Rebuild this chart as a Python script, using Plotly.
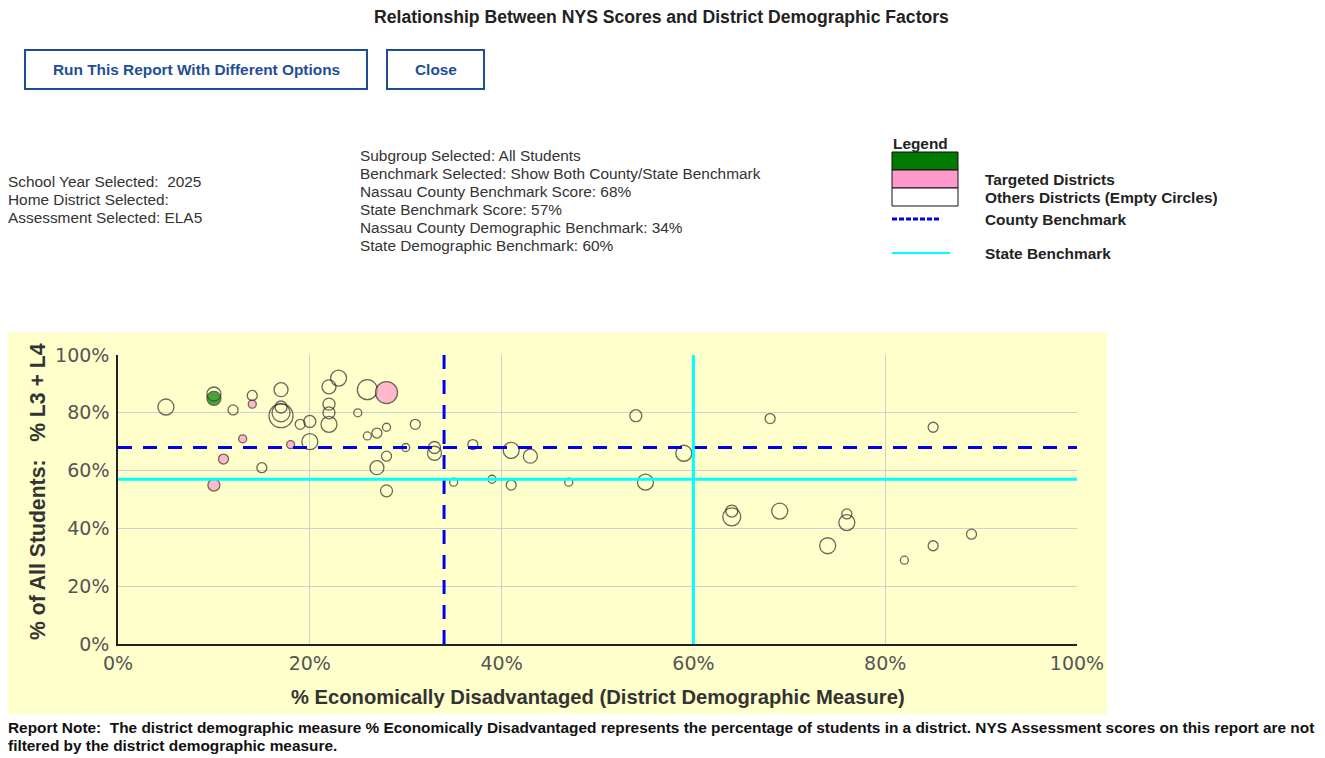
import plotly.graph_objects as go

W, H = 1325, 758

# ---------------- data ----------------
other_x = [5, 10, 12, 14, 15, 17, 17, 17, 17, 19, 20, 20, 22, 23, 22, 22, 22, 25, 26, 26,
           27, 28, 31, 28, 27, 28, 30, 33, 33, 37, 35, 39, 41, 43, 41, 47, 54, 55, 59, 68,
           85, 64, 64, 69, 76, 76, 74, 82, 85, 89]
other_y = [82, 86.5, 81, 86, 61, 88, 82, 80, 79, 76, 77, 70, 89, 92, 83, 80, 76, 80, 88, 72,
           73, 75, 76, 65, 61, 53, 68, 68, 66, 69, 56, 57, 67, 65, 55, 56, 79, 56, 66, 78,
           75, 46, 44, 46, 45, 42, 34, 29, 34, 38]
other_size = [16, 14, 10, 10, 10, 14, 12, 18, 24, 10, 12, 16, 14, 16, 12, 12, 16, 8, 20, 8,
              10, 8, 10, 10, 14, 12, 8, 12, 14, 10, 8, 8, 16, 14, 10, 8, 12, 16, 16, 10,
              10, 12, 18, 16, 10, 16, 16, 8, 10, 10]

target_x = [14, 13, 11, 10, 18, 28]
target_y = [83, 71, 64, 55, 69, 87]
target_size = [8, 8, 10, 12, 8, 22]

home_x = [10]
home_y = [85]
home_size = [14]

county_score = 68
state_score = 57
county_demo = 34
state_demo = 60

x_ticks = [0, 20, 40, 60, 80, 100]
y_ticks = [0, 20, 40, 60, 80, 100]
x_ticklabels = ["0%", "20%", "40%", "60%", "80%", "100%"]
y_ticklabels = ["0%", "20%", "40%", "60%", "80%", "100%"]

title_text = "Relationship Between NYS Scores and District Demographic Factors"
left_info = ["School Year Selected:  2025", "Home District Selected:", "Assessment Selected: ELA5"]
mid_info = ["Subgroup Selected: All Students",
            "Benchmark Selected: Show Both County/State Benchmark",
            "Nassau County Benchmark Score: 68%",
            "State Benchmark Score: 57%",
            "Nassau County Demographic Benchmark: 34%",
            "State Demographic Benchmark: 60%"]
note_lines = ["Report Note:  The district demographic measure % Economically Disadvantaged represents the percentage of students in a district. NYS Assessment scores on this report are not",
              "filtered by the district demographic measure."]

# ---------------- helpers ----------------
def px(x):
    return x / W

def py(y):
    return 1 - y / H

PLOT_L, PLOT_R, PLOT_T, PLOT_B = 118, 1077, 355, 644
YELLOW = "#FFFFCC"
TXT = "#333333"
BTN = "#1F4E96"
FONT = "Liberation Sans, Arial, sans-serif"
FS = 15.4

fig = go.Figure()

fig.add_trace(go.Scatter(
    x=other_x, y=other_y, mode="markers",
    marker=dict(size=other_size, color="rgba(0,0,0,0)",
                line=dict(color="#2a2a2a", width=1.3)),
    hoverinfo="x+y", showlegend=False))
fig.add_trace(go.Scatter(
    x=target_x, y=target_y, mode="markers",
    marker=dict(size=target_size, color="#FF99CC",
                line=dict(color="#2a2a2a", width=1.3)),
    hoverinfo="x+y", showlegend=False))
fig.add_trace(go.Scatter(
    x=home_x, y=home_y, mode="markers",
    marker=dict(size=home_size, color="#007A00",
                line=dict(color="#222222", width=1.3)),
    hoverinfo="x+y", showlegend=False))

shapes = []
shapes.append(dict(type="rect", xref="paper", yref="paper",
                   x0=px(8), x1=px(1107), y0=py(714), y1=py(332),
                   fillcolor=YELLOW, line=dict(width=0), layer="below"))
dash = "14px,11px"
shapes.append(dict(type="line", xref="x", yref="y", x0=0, x1=100, y0=county_score, y1=county_score,
                   line=dict(color="#0000EE", width=3, dash=dash)))
shapes.append(dict(type="line", xref="x", yref="y", x0=county_demo, x1=county_demo, y0=0, y1=100,
                   line=dict(color="#0000EE", width=3, dash=dash)))
shapes.append(dict(type="line", xref="x", yref="y", x0=0, x1=100, y0=state_score, y1=state_score,
                   line=dict(color="#00FFFF", width=3)))
shapes.append(dict(type="line", xref="x", yref="y", x0=state_demo, x1=state_demo, y0=0, y1=100,
                   line=dict(color="#00FFFF", width=3)))
for (x0, x1) in [(25, 367), (387, 484)]:
    shapes.append(dict(type="rect", xref="paper", yref="paper",
                       x0=px(x0), x1=px(x1), y0=py(89), y1=py(50),
                       fillcolor="white", line=dict(color=BTN, width=2)))
for (y0, y1, c) in [(152, 170, "#007A00"), (170, 188, "#FF99CC"), (188, 206, "white")]:
    shapes.append(dict(type="rect", xref="paper", yref="paper",
                       x0=px(892), x1=px(958), y0=py(y1), y1=py(y0),
                       fillcolor=c, line=dict(color="#111111", width=1)))
shapes.append(dict(type="line", xref="paper", yref="paper",
                   x0=px(892), x1=px(940), y0=py(219), y1=py(219),
                   line=dict(color="#0000EE", width=3, dash="5px,2px")))
shapes.append(dict(type="line", xref="paper", yref="paper",
                   x0=px(892), x1=px(950), y0=py(253), y1=py(253),
                   line=dict(color="#00FFFF", width=2)))

ann = []
def text(x, y, s, size=FS, bold=False, color=TXT, xanchor="left", family=FONT):
    ann.append(dict(xref="paper", yref="paper", x=px(x), y=py(y), text=s,
                    showarrow=False, xanchor=xanchor, yanchor="middle",
                    font=dict(size=size, color=color, family=family,
                              weight="bold" if bold else "normal")))

text(661, 17, title_text, size=17.6, bold=True, color="#222222", xanchor="center")
text(196, 70, "Run This Report With Different Options", size=FS, bold=True, color=BTN, xanchor="center")
text(435.5, 70, "Close", size=FS, bold=True, color=BTN, xanchor="center")
for i, s in enumerate(left_info):
    text(6, 182 + 18 * i, s)
for i, s in enumerate(mid_info):
    text(358, 155 + 18 * i, s)
text(891, 143, "Legend", size=FS, bold=True, color="#222222")
text(983, 179, "Targeted Districts", size=FS, bold=True, color="#222222")
text(983, 197, "Others Districts (Empty Circles)", size=FS, bold=True, color="#222222")
text(983, 219, "County Benchmark", size=FS, bold=True, color="#222222")
text(983, 253, "State Benchmark", size=FS, bold=True, color="#222222")
text(6, 727, note_lines[0], size=FS, bold=True, color="#111111")
text(6, 745, note_lines[1], size=FS, bold=True, color="#111111")
text(598, 697, "% Economically Disadvantaged (District Demographic Measure)", size=20.2, bold=True,
     color="#333333", xanchor="center")
ann.append(dict(xref="paper", yref="paper", x=px(37), y=py(492),
                text="% of All Students:   % L3 + L4", showarrow=False,
                xanchor="center", yanchor="middle", textangle=-90,
                font=dict(size=21.2, color="#333333", family=FONT, weight="bold")))

fig.update_layout(
    width=W, height=H,
    margin=dict(l=0, r=0, t=0, b=0, pad=0, autoexpand=False),
    paper_bgcolor="white", plot_bgcolor=YELLOW,
    shapes=shapes, annotations=ann,
    xaxis=dict(domain=[px(PLOT_L), px(PLOT_R)], range=[0, 100], automargin=False,
               tickvals=x_ticks, ticktext=x_ticklabels,
               showgrid=True, gridcolor="#D0D0D0", gridwidth=1,
               showline=True, linecolor="#222222", linewidth=1.5,
               zeroline=False, ticks="", ticklabelstandoff=1,
               tickfont=dict(size=19, color="#555555", family="DejaVu Sans")),
    yaxis=dict(domain=[py(PLOT_B), py(PLOT_T)], range=[0, 100], automargin=False,
               tickvals=y_ticks, ticktext=y_ticklabels,
               showgrid=True, gridcolor="#D0D0D0", gridwidth=1,
               showline=True, linecolor="#222222", linewidth=1.5,
               zeroline=False, ticks="", ticklabelstandoff=3,
               tickfont=dict(size=19, color="#555555", family="DejaVu Sans")),
)

fig.write_html("out.html", config={"displayModeBar": False})
